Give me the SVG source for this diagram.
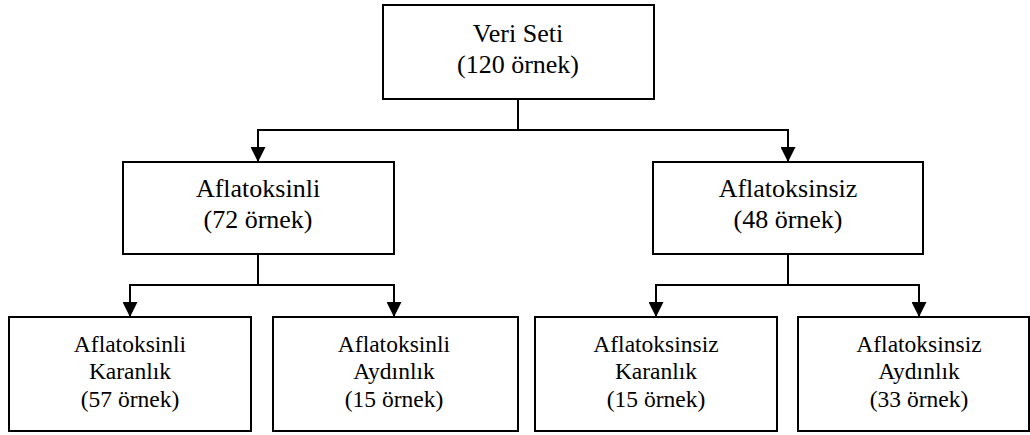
<svg xmlns="http://www.w3.org/2000/svg" width="1030" height="435" viewBox="0 0 1030 435">
<style>
.box{fill:#fff;stroke:#000;stroke-width:2}
.t{font-family:"Liberation Serif","Times New Roman",serif;fill:#000;text-anchor:middle}
.big{font-size:26px}
.small{font-size:23.5px}
.c{fill:none;stroke:#000;stroke-width:2}
</style>
<defs>
<marker id="ah" markerUnits="userSpaceOnUse" markerWidth="15" markerHeight="15" refX="15" refY="7.5" orient="auto">
<path d="M0,0 L15,7.5 L0,15 z" fill="#000"/>
</marker>
</defs>
<rect width="1030" height="435" fill="#fff"/>
<g id="connectors">
<path class="c" d="M518,99 V130 H258 V162" marker-end="url(#ah)"/>
<path class="c" d="M518,130 H788 V162" marker-end="url(#ah)"/>
<path class="c" d="M258,254 V285 H130 V317" marker-end="url(#ah)"/>
<path class="c" d="M258,285 H394 V317" marker-end="url(#ah)"/>
<path class="c" d="M788,254 V285 H656 V317" marker-end="url(#ah)"/>
<path class="c" d="M788,285 H919 V317" marker-end="url(#ah)"/>
</g>
<g id="root">
<rect class="box" x="383" y="5" width="271" height="94"/>
<text class="t big" x="518" y="42">Veri Seti</text>
<text class="t big" x="518" y="73">(120 örnek)</text>
</g>
<g id="aflatoksinli">
<rect class="box" x="123" y="162" width="271" height="92"/>
<text class="t big" x="258" y="197">Aflatoksinli</text>
<text class="t big" x="258" y="228">(72 örnek)</text>
</g>
<g id="aflatoksinsiz">
<rect class="box" x="653" y="162" width="270" height="92"/>
<text class="t big" x="788" y="197">Aflatoksinsiz</text>
<text class="t big" x="788" y="228">(48 örnek)</text>
</g>
<g id="aflatoksinli-karanlik">
<rect class="box" x="9" y="317" width="242" height="114"/>
<text class="t small" x="130" y="352">Aflatoksinli</text>
<text class="t small" x="130" y="379">Karanlık</text>
<text class="t small" x="130" y="407">(57 örnek)</text>
</g>
<g id="aflatoksinli-aydinlik">
<rect class="box" x="273" y="317" width="245" height="114"/>
<text class="t small" x="394" y="352">Aflatoksinli</text>
<text class="t small" x="394" y="379">Aydınlık</text>
<text class="t small" x="394" y="407">(15 örnek)</text>
</g>
<g id="aflatoksinsiz-karanlik">
<rect class="box" x="535" y="317" width="242" height="114"/>
<text class="t small" x="656" y="352">Aflatoksinsiz</text>
<text class="t small" x="656" y="379">Karanlık</text>
<text class="t small" x="656" y="407">(15 örnek)</text>
</g>
<g id="aflatoksinsiz-aydinlik">
<rect class="box" x="798" y="317" width="231" height="114"/>
<text class="t small" x="919" y="352">Aflatoksinsiz</text>
<text class="t small" x="919" y="379">Aydınlık</text>
<text class="t small" x="919" y="407">(33 örnek)</text>
</g>
</svg>
